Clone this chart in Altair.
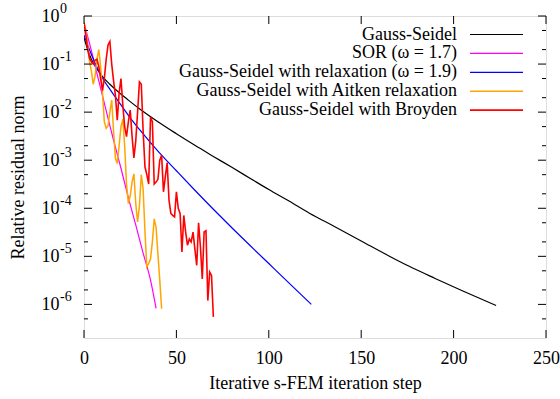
import altair as alt
import pandas as pd

# ---------------- data ----------------
gs_x = [0, 2, 4, 7, 10, 14, 18, 24, 30, 40, 50, 60, 70, 80, 90, 100, 110, 122,
        135, 150, 165, 176, 190, 205, 223]
gs_y = [0.355, 0.2, 0.126, 0.0794, 0.055, 0.038, 0.0275, 0.0178, 0.01175, 6.3e-3,
        3.55e-3, 2.04e-3, 1.2e-3, 7.1e-4, 4.17e-4, 2.45e-4, 1.48e-4, 7.9e-5,
        4.27e-5, 2.09e-5, 1.02e-5, 6.2e-6, 3.47e-6, 1.9e-6, 9.5e-7]

sor_x = [0, 4, 8, 12, 16, 20, 24, 28, 32, 36, 39]
sor_y = [0.71, 0.19, 0.0447, 0.0107, 2.6e-3, 6.8e-4, 1.66e-4, 4.5e-5, 1.17e-5, 3.2e-6, 8.3e-7]

rel_x = [0, 4, 9, 15, 20, 25, 30, 40, 50, 60, 70, 80, 90, 100, 110, 123]
rel_y = [0.398, 0.158, 0.06, 0.0263, 0.0141, 7.6e-3, 4.37e-3, 1.55e-3, 6.03e-4, 2.37e-4,
         9.55e-5, 3.94e-5, 1.66e-5, 7.08e-6, 3.02e-6, 1.0e-6]

ait_x = list(range(0, 43))
ait_y = [0.76, 0.50, 0.25, 0.112, 0.071, 0.038, 0.056, 0.126, 0.2, 0.089,
         0.025, 6.3e-3, 4.6e-3, 5.2e-3, 0.01, 0.0178, 4.0e-3, 1.12e-3, 8.5e-4, 2.0e-3,
         5.0e-3, 7.1e-3, 2.0e-3, 3.2e-4, 1.26e-4, 1.78e-4, 3.5e-4, 5.2e-4, 1.26e-4, 5.2e-5,
         1.12e-4, 5.0e-4, 2.5e-4, 3.2e-5, 6.0e-6, 7.1e-6, 8.9e-6, 2.0e-5, 6.0e-5, 4.0e-5,
         1.12e-5, 3.2e-6, 8.1e-7]

bro_x = list(range(0, 71))
bro_y = [0.71, 0.40, 0.20, 0.132, 0.112, 0.1, 0.12, 0.126, 0.089, 0.05,
         0.028, 0.05, 0.126, 0.25, 0.295, 0.1, 0.0447, 0.0224, 6.8e-3, 0.025,
         0.05, 0.0141, 5.0e-3, 3.1e-3, 6.3e-3, 0.011, 3.2e-3, 1.12e-3, 2.5e-3, 0.01,
         0.0427, 0.038, 4.0e-3, 7.2e-4, 5.0e-4, 3.2e-4, 7.9e-3, 6.3e-3, 3.2e-4, 3.5e-4,
         4.0e-4, 1.0e-3, 1.26e-3, 2.2e-4, 4.5e-4, 8.9e-4, 1.48e-4, 7.8e-5, 7.1e-5, 6.6e-5,
         2.2e-4, 1.0e-4, 7.8e-5, 1.23e-5, 7.1e-5, 3.2e-5, 1.7e-5, 2.3e-5, 2.0e-5, 3.2e-5,
         1.41e-5, 6.5e-6, 5.0e-5, 1.58e-5, 3.4e-6, 3.2e-5, 3.4e-5, 1.2e-6, 4.7e-6, 4.0e-6,
         5.5e-7]

names = ["Gauss-Seidel", "SOR (ω = 1.7)", "Gauss-Seidel with relaxation (ω = 1.9)",
         "Gauss-Seidel with Aitken relaxation", "Gauss-Seidel with Broyden"]
colors = ["#000000", "#ff00ff", "#0000ff", "#ffa500", "#ff0000"]
widths = [1.2, 1.2, 1.2, 1.5, 1.6]
smooth = [True, True, True, False, False]

x_ticks = [0, 50, 100, 150, 200, 250]
y_major = [1, 1e-1, 1e-2, 1e-3, 1e-4, 1e-5, 1e-6]
y_minor = [5e-1, 2e-1, 5e-2, 2e-2, 5e-3, 2e-3, 5e-4, 2e-4, 5e-5, 2e-5, 5e-6, 2e-6, 5e-7]
y_exponents = ["0", "-1", "-2", "-3", "-4", "-5", "-6"]

# ---------------- chart ----------------
W, H = 462, 322
FONT = "Liberation Serif"

xs = alt.Scale(domain=[0, 250], nice=False, zero=False)
ys = alt.Scale(type="log", domain=[2e-7, 1], nice=False)

series = [(gs_x, gs_y), (sor_x, sor_y), (rel_x, rel_y), (ait_x, ait_y), (bro_x, bro_y)]
rows = []
for name, (xv, yv) in zip(names, series):
    rows += [{"series": name, "step": a, "res": b} for a, b in zip(xv, yv)]
df = pd.DataFrame(rows)

x_axis = alt.Axis(values=x_ticks, title="Iterative s-FEM iteration step", labelFont=FONT,
                  labelFontSize=18, titleFont=FONT, titleFontSize=18, titleFontWeight="normal",
                  ticks=False, domain=False, grid=False, labelPadding=11, labelFlush=False,
                  labelOverlap=False, titleY=45, titleBaseline="middle",
                  labelColor="black", titleColor="black")
y_axis = alt.Axis(values=y_major, labelExpr="'10'", title="Relative residual norm",
                  labelFont=FONT, labelFontSize=18, titleFont=FONT, titleFontSize=18,
                  titleFontWeight="normal", ticks=False, domain=False, grid=False,
                  labelPadding=25, labelOverlap=False, titleX=-66, titleBaseline="middle",
                  labelColor="black", titleColor="black")

layers = []
base = alt.Chart(df)
for i, (name, color, w, sm) in enumerate(zip(names, colors, widths, smooth)):
    mk = dict(color=color, strokeWidth=w, clip=True)
    if sm:
        mk["interpolate"] = "monotone"
    layers.append(
        base.transform_filter(alt.datum.series == name)
        .mark_line(**mk)
        .encode(
            x=alt.X("step:Q", scale=xs, axis=x_axis),
            y=alt.Y("res:Q", scale=ys, axis=y_axis),
            order="step:Q",
        )
    )

# exponents of the decade labels (superscripts)
exp_df = pd.DataFrame({"v": y_major, "e": y_exponents})
layers.append(alt.Chart(exp_df).mark_text(align="left", baseline="middle", dy=-7,
                                          font=FONT, fontSize=14, color="black").encode(
    y=alt.Y("v:Q", scale=ys, axis=y_axis), x=alt.value(-24), text="e:N"))

# inward ticks (gnuplot style) on all four sides
ymaj = alt.Chart(pd.DataFrame({"v": y_major}))
ymin = alt.Chart(pd.DataFrame({"v": y_minor}))
xmaj = alt.Chart(pd.DataFrame({"v": x_ticks}))
for src, L in [(ymaj, 8), (ymin, 4)]:
    layers.append(src.mark_rule(color="black", strokeWidth=1).encode(
        y=alt.Y("v:Q", scale=ys, axis=y_axis), x=alt.value(0), x2=alt.value(L)))
    layers.append(src.mark_rule(color="black", strokeWidth=1).encode(
        y=alt.Y("v:Q", scale=ys, axis=y_axis), x=alt.value(W - L), x2=alt.value(W)))
layers.append(xmaj.mark_rule(color="black", strokeWidth=1).encode(
    x=alt.X("v:Q", scale=xs, axis=x_axis), y=alt.value(H - 8), y2=alt.value(H)))
layers.append(xmaj.mark_rule(color="black", strokeWidth=1).encode(
    x=alt.X("v:Q", scale=xs, axis=x_axis), y=alt.value(0), y2=alt.value(8)))

# key (top right, text right-aligned, sample line to the right)
for i, (name, color, w) in enumerate(zip(names, colors, widths)):
    ky = 18.5 + 18.9 * i
    kd = alt.Chart(pd.DataFrame({"name": [name]}))
    layers.append(kd.mark_text(align="right", baseline="middle", font=FONT, fontSize=18,
                               color="black").encode(
        x=alt.value(373), y=alt.value(ky), text="name:N"))
    layers.append(kd.mark_rule(color=color, strokeWidth=w).encode(
        x=alt.value(386), x2=alt.value(439), y=alt.value(ky)))

chart = alt.layer(*layers).properties(
    width=W, height=H,
    autosize=alt.AutoSizeParams(type="none"),
    padding={"left": 84, "top": 16, "right": 14, "bottom": 61},
).configure_view(stroke="black", strokeWidth=1.5).configure(background="white")

chart.save("out.html", embed_options={"renderer": "svg", "actions": False})
